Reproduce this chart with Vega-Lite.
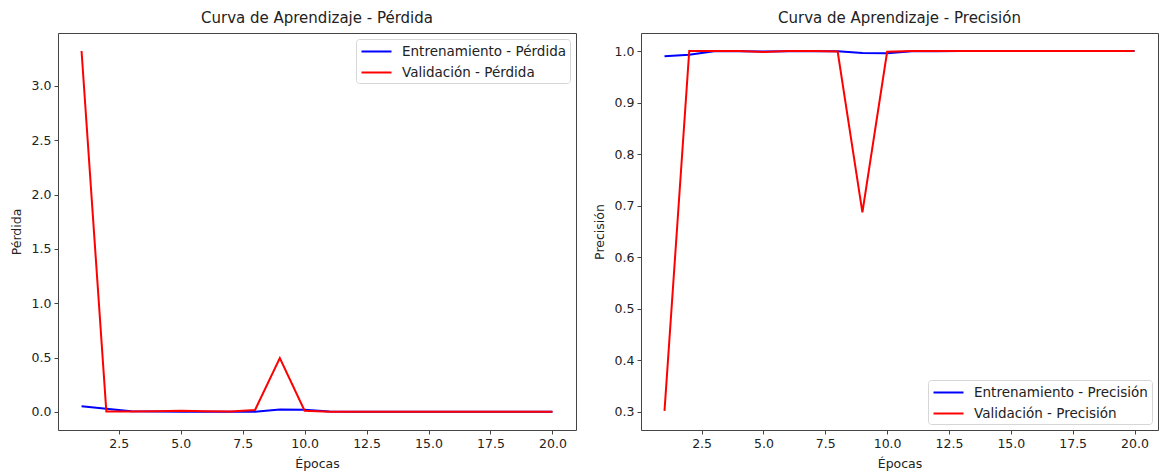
{
  "$schema": "https://vega.github.io/schema/vega-lite/v6.json",
  "padding": {"left": 9, "top": 10, "right": 1, "bottom": 5},
  "background": "white",
  "datasets": {
    "loss": [
      {"epoch": 1, "serie": "Entrenamiento - Pérdida", "value": 0.052},
      {"epoch": 2, "serie": "Entrenamiento - Pérdida", "value": 0.03},
      {"epoch": 3, "serie": "Entrenamiento - Pérdida", "value": 0.006},
      {"epoch": 4, "serie": "Entrenamiento - Pérdida", "value": 0.004},
      {"epoch": 5, "serie": "Entrenamiento - Pérdida", "value": 0.003},
      {"epoch": 6, "serie": "Entrenamiento - Pérdida", "value": 0.003},
      {"epoch": 7, "serie": "Entrenamiento - Pérdida", "value": 0.002},
      {"epoch": 8, "serie": "Entrenamiento - Pérdida", "value": 0.003},
      {"epoch": 9, "serie": "Entrenamiento - Pérdida", "value": 0.022},
      {"epoch": 10, "serie": "Entrenamiento - Pérdida", "value": 0.02},
      {"epoch": 11, "serie": "Entrenamiento - Pérdida", "value": 0.005},
      {"epoch": 12, "serie": "Entrenamiento - Pérdida", "value": 0.003},
      {"epoch": 13, "serie": "Entrenamiento - Pérdida", "value": 0.002},
      {"epoch": 14, "serie": "Entrenamiento - Pérdida", "value": 0.002},
      {"epoch": 15, "serie": "Entrenamiento - Pérdida", "value": 0.001},
      {"epoch": 16, "serie": "Entrenamiento - Pérdida", "value": 0.001},
      {"epoch": 17, "serie": "Entrenamiento - Pérdida", "value": 0.001},
      {"epoch": 18, "serie": "Entrenamiento - Pérdida", "value": 0.001},
      {"epoch": 19, "serie": "Entrenamiento - Pérdida", "value": 0.001},
      {"epoch": 20, "serie": "Entrenamiento - Pérdida", "value": 0.001},
      {"epoch": 1, "serie": "Validación - Pérdida", "value": 3.32},
      {"epoch": 2, "serie": "Validación - Pérdida", "value": 0.005},
      {"epoch": 3, "serie": "Validación - Pérdida", "value": 0.004},
      {"epoch": 4, "serie": "Validación - Pérdida", "value": 0.006},
      {"epoch": 5, "serie": "Validación - Pérdida", "value": 0.012},
      {"epoch": 6, "serie": "Validación - Pérdida", "value": 0.006},
      {"epoch": 7, "serie": "Validación - Pérdida", "value": 0.004},
      {"epoch": 8, "serie": "Validación - Pérdida", "value": 0.018},
      {"epoch": 9, "serie": "Validación - Pérdida", "value": 0.495},
      {"epoch": 10, "serie": "Validación - Pérdida", "value": 0.012},
      {"epoch": 11, "serie": "Validación - Pérdida", "value": 0.003},
      {"epoch": 12, "serie": "Validación - Pérdida", "value": 0.002},
      {"epoch": 13, "serie": "Validación - Pérdida", "value": 0.002},
      {"epoch": 14, "serie": "Validación - Pérdida", "value": 0.002},
      {"epoch": 15, "serie": "Validación - Pérdida", "value": 0.001},
      {"epoch": 16, "serie": "Validación - Pérdida", "value": 0.001},
      {"epoch": 17, "serie": "Validación - Pérdida", "value": 0.001},
      {"epoch": 18, "serie": "Validación - Pérdida", "value": 0.001},
      {"epoch": 19, "serie": "Validación - Pérdida", "value": 0.001},
      {"epoch": 20, "serie": "Validación - Pérdida", "value": 0.001}
    ],
    "acc": [
      {"epoch": 1, "serie": "Entrenamiento - Precisión", "value": 0.9897},
      {"epoch": 2, "serie": "Entrenamiento - Precisión", "value": 0.993},
      {"epoch": 3, "serie": "Entrenamiento - Precisión", "value": 0.9995},
      {"epoch": 4, "serie": "Entrenamiento - Precisión", "value": 0.9996},
      {"epoch": 5, "serie": "Entrenamiento - Precisión", "value": 0.9993},
      {"epoch": 6, "serie": "Entrenamiento - Precisión", "value": 0.9998},
      {"epoch": 7, "serie": "Entrenamiento - Precisión", "value": 0.9998},
      {"epoch": 8, "serie": "Entrenamiento - Precisión", "value": 0.9995},
      {"epoch": 9, "serie": "Entrenamiento - Precisión", "value": 0.9962},
      {"epoch": 10, "serie": "Entrenamiento - Precisión", "value": 0.9958},
      {"epoch": 11, "serie": "Entrenamiento - Precisión", "value": 0.9995},
      {"epoch": 12, "serie": "Entrenamiento - Precisión", "value": 0.9998},
      {"epoch": 13, "serie": "Entrenamiento - Precisión", "value": 0.9999},
      {"epoch": 14, "serie": "Entrenamiento - Precisión", "value": 1.0},
      {"epoch": 15, "serie": "Entrenamiento - Precisión", "value": 1.0},
      {"epoch": 16, "serie": "Entrenamiento - Precisión", "value": 1.0},
      {"epoch": 17, "serie": "Entrenamiento - Precisión", "value": 1.0},
      {"epoch": 18, "serie": "Entrenamiento - Precisión", "value": 1.0},
      {"epoch": 19, "serie": "Entrenamiento - Precisión", "value": 1.0},
      {"epoch": 20, "serie": "Entrenamiento - Precisión", "value": 1.0},
      {"epoch": 1, "serie": "Validación - Precisión", "value": 0.302},
      {"epoch": 2, "serie": "Validación - Precisión", "value": 1.0},
      {"epoch": 3, "serie": "Validación - Precisión", "value": 1.0},
      {"epoch": 4, "serie": "Validación - Precisión", "value": 1.0},
      {"epoch": 5, "serie": "Validación - Precisión", "value": 0.998},
      {"epoch": 6, "serie": "Validación - Precisión", "value": 1.0},
      {"epoch": 7, "serie": "Validación - Precisión", "value": 1.0},
      {"epoch": 8, "serie": "Validación - Precisión", "value": 0.999},
      {"epoch": 9, "serie": "Validación - Precisión", "value": 0.687},
      {"epoch": 10, "serie": "Validación - Precisión", "value": 0.9985},
      {"epoch": 11, "serie": "Validación - Precisión", "value": 1.0},
      {"epoch": 12, "serie": "Validación - Precisión", "value": 1.0},
      {"epoch": 13, "serie": "Validación - Precisión", "value": 1.0},
      {"epoch": 14, "serie": "Validación - Precisión", "value": 1.0},
      {"epoch": 15, "serie": "Validación - Precisión", "value": 1.0},
      {"epoch": 16, "serie": "Validación - Precisión", "value": 1.0},
      {"epoch": 17, "serie": "Validación - Precisión", "value": 1.0},
      {"epoch": 18, "serie": "Validación - Precisión", "value": 1.0},
      {"epoch": 19, "serie": "Validación - Precisión", "value": 1.0},
      {"epoch": 20, "serie": "Validación - Precisión", "value": 1.0}
    ]
  },
  "config": {
    "font": "DejaVu Sans",
    "view": {"stroke": "#444", "strokeWidth": 1},
    "axis": {
      "grid": false,
      "domain": false,
      "tickColor": "#444",
      "tickSize": 4,
      "labelFontSize": 12.5,
      "labelColor": "#222",
      "titleFontSize": 12.5,
      "titleFontWeight": "normal",
      "titleColor": "#222",
      "labelPadding": 3,
      "titlePadding": 8
    },
    "title": {"fontSize": 15, "fontWeight": "normal", "color": "#222", "offset": 7},
    "legend": {
      "symbolType": "M-2,0H2",
      "symbolSize": 225,
      "symbolStrokeWidth": 2,
      "symbolOffset": 8,
      "labelFontSize": 13.5,
      "labelColor": "#222",
      "labelOffset": 17,
      "padding": 4,
      "cornerRadius": 3,
      "strokeColor": "#d6d6d6",
      "fillColor": "white",
      "offset": 6,
      "rowPadding": 6,
      "direction": "vertical",
      "labelLimit": 300
    }
  },
  "spacing": 65,
  "bounds": "flush",
  "resolve": {"scale": {"color": "independent"}, "legend": {"color": "independent"}},
  "hconcat": [
    {
      "width": 518,
      "height": 397,
      "title": "Curva de Aprendizaje - Pérdida",
      "data": {"name": "loss"},
      "mark": {"type": "line", "strokeWidth": 2, "clip": true},
      "encoding": {
        "x": {"field": "epoch", "type": "quantitative",
          "scale": {"domain": [0.05, 20.95], "nice": false, "zero": false},
          "axis": {"title": "Épocas", "values": [2.5, 5, 7.5, 10, 12.5, 15, 17.5, 20], "format": ".1f"}},
        "y": {"field": "value", "type": "quantitative",
          "scale": {"domain": [-0.166, 3.486], "nice": false, "zero": false},
          "axis": {"title": "Pérdida", "values": [0, 0.5, 1, 1.5, 2, 2.5, 3], "format": ".1f"}},
        "color": {"field": "serie", "type": "nominal",
          "scale": {"domain": ["Entrenamiento - Pérdida", "Validación - Pérdida"], "range": ["#0000ff", "#ff0000"]},
          "legend": {"title": null, "orient": "top-right"}}
      }
    },
    {
      "width": 517,
      "height": 397,
      "title": "Curva de Aprendizaje - Precisión",
      "data": {"name": "acc"},
      "mark": {"type": "line", "strokeWidth": 2, "clip": true},
      "encoding": {
        "x": {"field": "epoch", "type": "quantitative",
          "scale": {"domain": [0.05, 20.95], "nice": false, "zero": false},
          "axis": {"title": "Épocas", "values": [2.5, 5, 7.5, 10, 12.5, 15, 17.5, 20], "format": ".1f"}},
        "y": {"field": "value", "type": "quantitative",
          "scale": {"domain": [0.265, 1.035], "nice": false, "zero": false},
          "axis": {"title": "Precisión", "values": [0.3, 0.4, 0.5, 0.6, 0.7, 0.8, 0.9, 1.0], "format": ".1f"}},
        "color": {"field": "serie", "type": "nominal",
          "scale": {"domain": ["Entrenamiento - Precisión", "Validación - Precisión"], "range": ["#0000ff", "#ff0000"]},
          "legend": {"title": null, "orient": "bottom-right"}}
      }
    }
  ]
}
